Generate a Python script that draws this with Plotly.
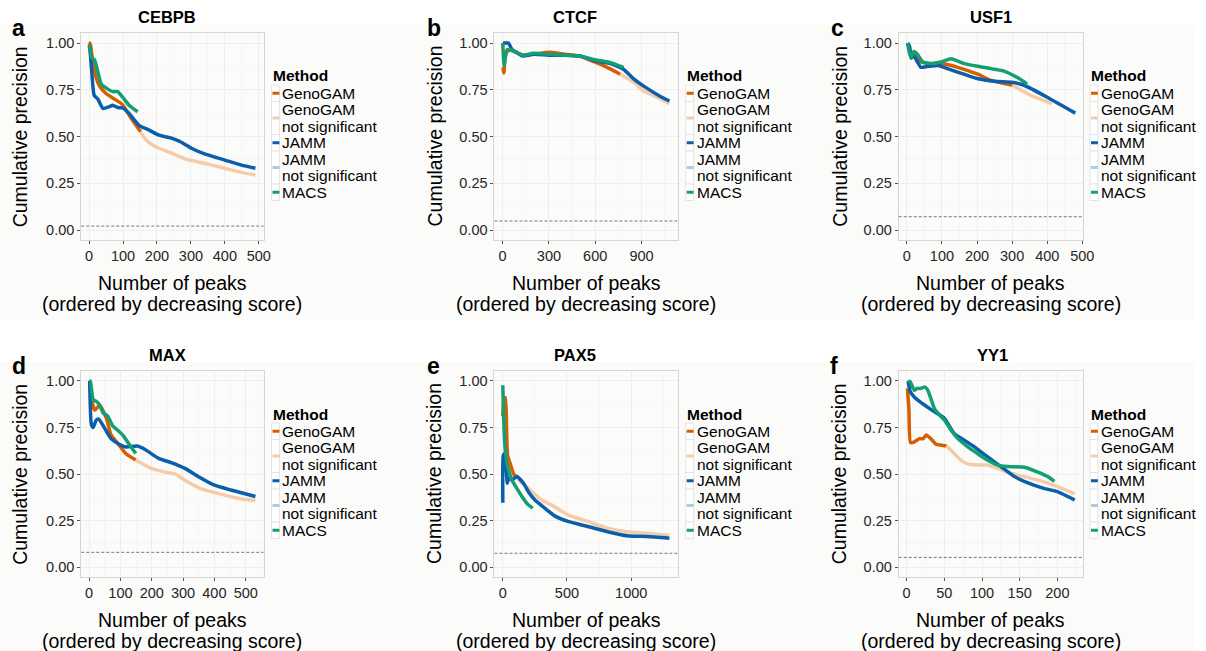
import plotly.graph_objects as go

W, H = 1206, 651
FONT = "Liberation Sans, Arial, sans-serif"

# ---------------- data ----------------
titles = ["CEBPB", "CTCF", "USF1", "MAX", "PAX5", "YY1"]
letters = ["a", "b", "c", "d", "e", "f"]
baselines = [0.021, 0.048, 0.071, 0.079, 0.074, 0.052]
legend_labels = ["GenoGAM", "GenoGAM|not significant", "JAMM", "JAMM|not significant", "MACS"]

cebpb_genogam_x = [1, 3, 12, 20, 31, 50, 75, 99, 123, 152]
cebpb_genogam_y = [0.97, 1.0, 0.89, 0.82, 0.77, 0.73, 0.70, 0.67, 0.60, 0.525]
cebpb_genogam_ns_x = [152, 160, 175, 196, 245, 283, 342, 400, 449, 490]
cebpb_genogam_ns_y = [0.525, 0.50, 0.47, 0.445, 0.41, 0.38, 0.356, 0.33, 0.308, 0.294]
cebpb_jamm_x = [2, 7, 15, 26, 41, 60, 70, 84, 99, 118, 147, 177, 206, 245, 269, 303, 342, 400, 449, 490]
cebpb_jamm_y = [0.98, 0.87, 0.72, 0.70, 0.65, 0.66, 0.667, 0.655, 0.653, 0.623, 0.56, 0.534, 0.507, 0.49, 0.472, 0.436, 0.406, 0.374, 0.347, 0.33]
cebpb_macs_x = [1, 7, 16, 26, 36, 50, 70, 84, 99, 118, 143]
cebpb_macs_y = [0.99, 0.92, 0.91, 0.845, 0.78, 0.76, 0.74, 0.74, 0.71, 0.667, 0.632]

ctcf_genogam_x = [2, 8, 15, 30, 60, 100, 130, 200, 300, 400, 500, 591, 650, 700, 762]
ctcf_genogam_y = [0.87, 0.84, 0.92, 0.965, 0.96, 0.945, 0.935, 0.94, 0.95, 0.94, 0.93, 0.90, 0.88, 0.86, 0.833]
ctcf_genogam_ns_x = [762, 850, 911, 1000, 1081]
ctcf_genogam_ns_y = [0.833, 0.79, 0.745, 0.71, 0.676]
ctcf_jamm_x = [2, 20, 38, 60, 100, 130, 200, 300, 400, 500, 600, 700, 783, 847, 932, 1017, 1081]
ctcf_jamm_y = [1.0, 1.0, 1.0, 0.965, 0.945, 0.93, 0.94, 0.935, 0.935, 0.93, 0.905, 0.89, 0.86, 0.81, 0.76, 0.717, 0.69]
ctcf_macs_x = [1, 10, 25, 50, 100, 130, 200, 300, 400, 500, 600, 700, 783]
ctcf_macs_y = [1.0, 0.88, 0.95, 0.965, 0.945, 0.935, 0.945, 0.94, 0.935, 0.93, 0.91, 0.895, 0.87]

usf1_genogam_x = [3, 8, 12, 20, 30, 40, 60, 100, 145, 202, 240, 301]
usf1_genogam_y = [1.0, 0.97, 0.93, 0.95, 0.93, 0.90, 0.89, 0.89, 0.87, 0.833, 0.80, 0.774]
usf1_genogam_ns_x = [301, 353, 414]
usf1_genogam_ns_y = [0.774, 0.72, 0.676]
usf1_jamm_x = [3, 8, 12, 20, 30, 40, 60, 90, 120, 160, 200, 250, 300, 334, 400, 480]
usf1_jamm_y = [1.0, 0.98, 0.92, 0.93, 0.90, 0.87, 0.875, 0.88, 0.86, 0.835, 0.81, 0.795, 0.79, 0.774, 0.71, 0.625]
usf1_macs_x = [2, 6, 12, 20, 30, 45, 70, 100, 126, 164, 240, 277, 315, 343]
usf1_macs_y = [1.0, 0.96, 0.92, 0.955, 0.94, 0.90, 0.89, 0.90, 0.916, 0.89, 0.863, 0.85, 0.815, 0.78]

max_genogam_x = [2, 8, 18, 34, 55, 70, 96, 117, 149]
max_genogam_y = [1.0, 0.90, 0.843, 0.87, 0.80, 0.71, 0.655, 0.61, 0.575]
max_genogam_ns_x = [149, 191, 243, 275, 306, 358, 411, 474, 531]
max_genogam_ns_y = [0.575, 0.536, 0.51, 0.50, 0.466, 0.42, 0.396, 0.37, 0.357]
max_jamm_x = [2, 7, 13, 23, 31, 55, 70, 96, 117, 154, 180, 222, 264, 306, 348, 400, 453, 531]
max_jamm_y = [1.0, 0.77, 0.75, 0.79, 0.795, 0.73, 0.69, 0.66, 0.645, 0.65, 0.63, 0.584, 0.56, 0.53, 0.487, 0.44, 0.414, 0.379]
max_macs_x = [1, 4, 13, 23, 34, 44, 60, 75, 91, 107, 128, 149]
max_macs_y = [1.0, 1.0, 0.90, 0.89, 0.87, 0.83, 0.81, 0.76, 0.735, 0.71, 0.66, 0.61]

pax5_genogam_x = [1, 10, 22, 30, 38, 59, 85, 100]
pax5_genogam_y = [0.81, 0.90, 0.91, 0.75, 0.60, 0.555, 0.50, 0.49]
pax5_genogam_ns_x = [100, 150, 200, 303, 380, 508, 662, 815, 969, 1123, 1297]
pax5_genogam_ns_y = [0.49, 0.45, 0.423, 0.36, 0.334, 0.28, 0.245, 0.209, 0.19, 0.182, 0.17]
pax5_jamm_x = [1, 5, 15, 28, 36, 46, 72, 110, 162, 200, 251, 328, 405, 508, 662, 815, 969, 1123, 1297]
pax5_jamm_y = [0.346, 0.60, 0.61, 0.52, 0.45, 0.477, 0.468, 0.486, 0.45, 0.405, 0.36, 0.316, 0.275, 0.245, 0.218, 0.19, 0.168, 0.164, 0.155]
pax5_macs_x = [1, 8, 20, 38, 72, 110, 149, 187, 233]
pax5_macs_y = [0.977, 0.79, 0.63, 0.54, 0.468, 0.423, 0.38, 0.343, 0.316]

yy1_genogam_x = [1, 3, 5, 9, 17, 22, 26, 32, 39, 46, 53]
yy1_genogam_y = [0.96, 0.85, 0.67, 0.67, 0.69, 0.69, 0.71, 0.69, 0.66, 0.655, 0.65]
yy1_genogam_ns_x = [53, 63, 72, 81, 94, 107, 121, 138, 156, 178, 200, 223]
yy1_genogam_ns_y = [0.65, 0.61, 0.575, 0.554, 0.548, 0.548, 0.53, 0.504, 0.486, 0.463, 0.432, 0.393]
yy1_jamm_x = [2, 5, 11, 17, 26, 37, 50, 63, 77, 90, 107, 125, 143, 160, 182, 200, 223]
yy1_jamm_y = [1.0, 0.94, 0.91, 0.89, 0.864, 0.834, 0.80, 0.718, 0.68, 0.646, 0.593, 0.54, 0.486, 0.454, 0.423, 0.405, 0.36]
yy1_macs_x = [2, 5, 10, 14, 19, 24, 28, 33, 37, 44, 50, 59, 68, 81, 94, 107, 121, 134, 156, 174, 187, 196]
yy1_macs_y = [1.0, 0.995, 0.95, 0.96, 0.96, 0.968, 0.95, 0.896, 0.85, 0.816, 0.79, 0.735, 0.69, 0.646, 0.61, 0.575, 0.548, 0.54, 0.536, 0.51, 0.486, 0.46]

panels = [
    (cebpb_genogam_x, cebpb_genogam_y, cebpb_genogam_ns_x, cebpb_genogam_ns_y, cebpb_jamm_x, cebpb_jamm_y, cebpb_macs_x, cebpb_macs_y),
    (ctcf_genogam_x, ctcf_genogam_y, ctcf_genogam_ns_x, ctcf_genogam_ns_y, ctcf_jamm_x, ctcf_jamm_y, ctcf_macs_x, ctcf_macs_y),
    (usf1_genogam_x, usf1_genogam_y, usf1_genogam_ns_x, usf1_genogam_ns_y, usf1_jamm_x, usf1_jamm_y, usf1_macs_x, usf1_macs_y),
    (max_genogam_x, max_genogam_y, max_genogam_ns_x, max_genogam_ns_y, max_jamm_x, max_jamm_y, max_macs_x, max_macs_y),
    (pax5_genogam_x, pax5_genogam_y, pax5_genogam_ns_x, pax5_genogam_ns_y, pax5_jamm_x, pax5_jamm_y, pax5_macs_x, pax5_macs_y),
    (yy1_genogam_x, yy1_genogam_y, yy1_genogam_ns_x, yy1_genogam_ns_y, yy1_jamm_x, yy1_jamm_y, yy1_macs_x, yy1_macs_y),
]

# ---------------- styling / layout ----------------
C_GENO = "#D55E00"
C_GENO_NS = "#F5CCAA"
C_JAMM = "#0B5EAA"
C_JAMM_NS = "#A9CCE6"
C_MACS = "#139E74"
legend_colors = [C_GENO, C_GENO_NS, C_JAMM, C_JAMM_NS, C_MACS]

col_x = [(82, 266), (499, 684), (907, 1093)]
row_y = [(33, 240), (371, 577)]
x_ranges = [(-23, 514), (-53, 1135), (-23, 502), (-25, 557), (-64, 1362), (-10.5, 234)]
x_dticks = [100, 300, 100, 100, 500, 50]
title_cx = [169, 580, 1000, 169, 580, 1002]
letter_cx = [19, 438, 845, 19, 437, 842]
ylab_cx = [20, 438, 847]
legend_left = [274, 692, 1100]


def px(x):
    return x / W


def py(y):
    return 1 - y / H


fig = go.Figure()
annotations = []
shapes = []

# light background band like the reference
for (y0, y1) in [(25, 320), (362, 651)]:
    shapes.append(dict(type="rect", xref="paper", yref="paper", x0=0, x1=1, y0=py(y1), y1=py(y0),
                       fillcolor="#FBFBFA", line=dict(width=0), layer="below"))

for i in range(6):
    r, c = divmod(i, 3)
    ax = "" if i == 0 else str(i + 1)
    xa, ya = "x" + ax, "y" + ax
    gx, gy, gnx, gny, jx, jy, mx, my = panels[i]
    for xs, ys, col in [(gx, gy, C_GENO), (gnx, gny, C_GENO_NS), (jx, jy, C_JAMM), (mx, my, C_MACS)]:
        fig.add_trace(go.Scatter(x=xs, y=ys, mode="lines", xaxis=xa, yaxis=ya, showlegend=False,
                                 line=dict(color=col, width=3.5, shape="spline", smoothing=0.5),
                                 hoverinfo="skip"))
    x0, x1 = col_x[c]
    y0, y1 = row_y[r]
    common = dict(showline=True, linecolor="#D6D6D6", linewidth=1, mirror=True,
                  ticks="outside", ticklen=3, tickcolor="#555555", tickwidth=1,
                  showgrid=True, gridcolor="#EEEEEE", gridwidth=1, zeroline=False,
                  tickfont=dict(family=FONT, size=14.5, color="#262626"))
    fig.layout["xaxis" + ax] = dict(domain=[px(x0), px(x1)], anchor=ya, range=list(x_ranges[i]),
                                    tick0=0, dtick=x_dticks[i],
                                    minor=dict(dtick=x_dticks[i] / 2, tick0=0, showgrid=True,
                                               gridcolor="#F6F6F6", ticks=""),
                                    **common)
    fig.layout["yaxis" + ax] = dict(domain=[py(y1), py(y0)], anchor=xa, range=[-0.0535, 1.0535],
                                    tick0=0, dtick=0.25, tickformat=".2f",
                                    minor=dict(dtick=0.125, tick0=0, showgrid=True,
                                               gridcolor="#F6F6F6", ticks=""),
                                    **common)
    # baseline
    shapes.append(dict(type="line", xref=xa + " domain", yref=ya, x0=0, x1=1,
                       y0=baselines[i], y1=baselines[i],
                       line=dict(color="#777777", width=1, dash="3px,2px")))
    # title
    annotations.append(dict(text="<b>%s</b>" % titles[i], x=px(title_cx[i]), y=py(y0 - 16),
                            xref="paper", yref="paper", showarrow=False, xanchor="center", yanchor="middle",
                            font=dict(family=FONT, size=16.5, color="#000000")))
    # panel letter
    annotations.append(dict(text="<b>%s</b>" % letters[i], x=px(letter_cx[i]), y=py(y0 - 5),
                            xref="paper", yref="paper", showarrow=False, xanchor="center", yanchor="middle",
                            font=dict(family=FONT, size=23, color="#000000")))
    # y-axis title
    annotations.append(dict(text="Cumulative precision", x=px(ylab_cx[c]), y=py((y0 + y1) / 2),
                            xref="paper", yref="paper", showarrow=False, xanchor="center", yanchor="middle",
                            textangle=-90, font=dict(family=FONT, size=19.5, color="#000000")))
    # x-axis title (two lines)
    for k, t in enumerate(["Number of peaks", "(ordered by decreasing score)"]):
        annotations.append(dict(text=t, x=px((x0 + x1) / 2), y=py(y1 + 43 + 21 * k),
                                xref="paper", yref="paper", showarrow=False, xanchor="center",
                                yanchor="middle", font=dict(family=FONT, size=19.5, color="#000000")))
    # legend (drawn manually)
    L = legend_left[c]
    top = 76 + (y0 - 33)
    annotations.append(dict(text="<b>Method</b>", x=px(L - 1), y=py(top), xref="paper", yref="paper",
                            showarrow=False, xanchor="left", yanchor="middle",
                            font=dict(family=FONT, size=15.5, color="#000000")))
    yy = top + 9
    for lab, colr in zip(legend_labels, legend_colors):
        lines = lab.split("|")
        hgt = 16.5 * len(lines)
        shapes.append(dict(type="rect", xref="paper", yref="paper", x0=px(L), x1=px(L + 8),
                           y0=py(yy + hgt), y1=py(yy), line=dict(color="#E4E4E4", width=1),
                           fillcolor="#FFFFFF"))
        cy = yy + hgt / 2
        shapes.append(dict(type="line", xref="paper", yref="paper", x0=px(L + 1), x1=px(L + 8),
                           y0=py(cy), y1=py(cy), line=dict(color=colr, width=3)))
        for k, t in enumerate(lines):
            annotations.append(dict(text=t, x=px(L + 9), y=py(yy + 8.25 + 16.5 * k), xref="paper",
                                    yref="paper", showarrow=False, xanchor="left", yanchor="middle",
                                    font=dict(family=FONT, size=15.5, color="#000000")))
        yy += hgt

fig.update_layout(width=W, height=H, margin=dict(l=0, r=0, t=0, b=0),
                  paper_bgcolor="#FFFFFF", plot_bgcolor="#FFFFFF",
                  annotations=annotations, shapes=shapes, showlegend=False,
                  font=dict(family=FONT))

fig.write_html("out.html", config={"displayModeBar": False},
               post_script="document.body.style.margin='0';document.body.style.overflow='hidden';")
